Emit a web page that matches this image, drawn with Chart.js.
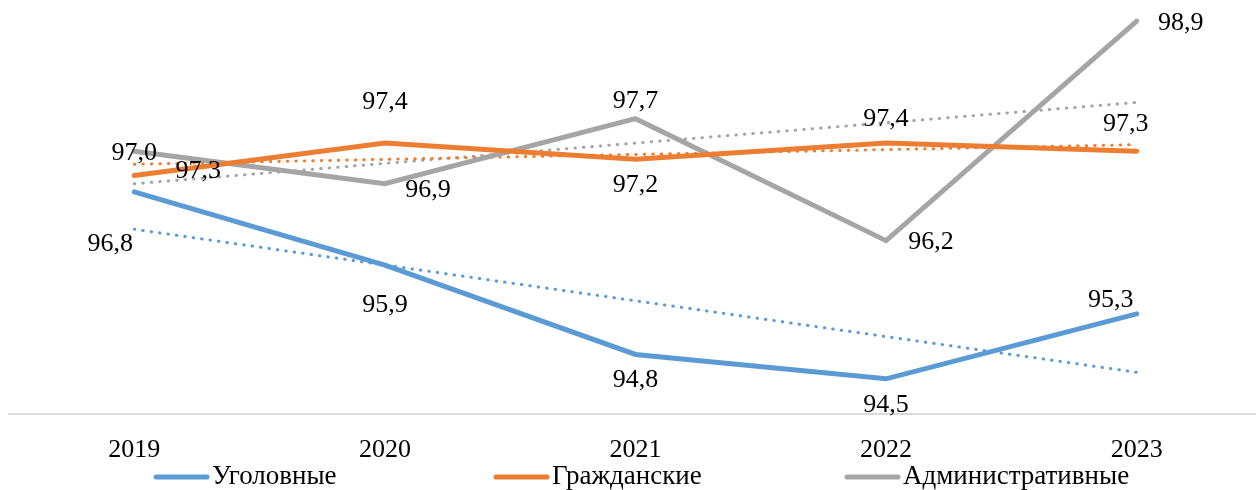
<!DOCTYPE html>
<html>
<head>
<meta charset="utf-8">
<script src="https://cdn.jsdelivr.net/npm/chart.js@4"></script>
<style>
  body { margin: 0; background: #fff; overflow: hidden; }
  #wrap { width: 1262px; height: 490px; }
</style>
</head>
<body>
<div id="wrap"><canvas id="chart"></canvas></div>
<script>
const years = ['2019', '2020', '2021', '2022', '2023'];
const criminal = [96.8, 95.9, 94.8, 94.5, 95.3];
const civil = [97.0, 97.4, 97.2, 97.4, 97.3];
const admin = [97.3, 96.9, 97.7, 96.2, 98.9];

// label offsets (px) from each point, per series
const labelShift = [
    [[-24, 52], [0, 40], [0, 26], [0, 26], [-26, -14]],
    [[0, -22], [0, -41], [0, 26], [0, -24], [-11, -27]],
    [[64, 20], [43, 6], [0, -18], [45, 2], [44, 2]]
];
const legendX = [154, 494, 845];

// linear trend, like the excel trendline
function trend(values) {
    const n = values.length;
    const mx = (n - 1) / 2;
    const my = values.reduce((a, b) => a + b, 0) / n;
    let num = 0, den = 0;
    values.forEach((v, i) => { num += (i - mx) * (v - my); den += (i - mx) * (i - mx); });
    const k = num / den;
    return values.map((v, i) => my + k * (i - mx));
}

const font = "'Liberation Serif', 'Times New Roman', serif";
const blue = '#5B9BD5', orange = '#ED7D31', gray = '#A5A5A5';

function mainLine(label, data, color) {
    return {
        label: label, data: data, borderColor: color, backgroundColor: color,
        borderWidth: 5, pointRadius: 0, tension: 0, borderCapStyle: 'round'
    };
}
function trendLine(data, color) {
    return {
        label: 'trend', data: trend(data), borderColor: color, backgroundColor: color,
        borderWidth: 3, borderDash: [0.5, 8], borderCapStyle: 'round', pointRadius: 0
    };
}

const valueLabels = {
    id: 'valueLabels',
    afterDatasetsDraw(chart) {
        const ctx = chart.ctx;
        ctx.save();
        ctx.font = '26px ' + font;
        ctx.fillStyle = '#000';
        ctx.textAlign = 'center';
        ctx.textBaseline = 'middle';
        for (let d = 0; d < 3; d++) {
            const meta = chart.getDatasetMeta(d);
            meta.data.forEach((pt, i) => {
                const txt = chart.data.datasets[d].data[i].toFixed(1).replace('.', ',');
                ctx.fillText(txt, pt.x + labelShift[d][i][0], pt.y + labelShift[d][i][1]);
            });
        }
        ctx.restore();
    }
};

const bottomLegend = {
    id: 'bottomLegend',
    afterDraw(chart) {
        const ctx = chart.ctx;
        const y = 477;
        ctx.save();
        ctx.font = '27px ' + font;
        ctx.textBaseline = 'middle';
        ctx.lineCap = 'round';
        for (let d = 0; d < 3; d++) {
            const ds = chart.data.datasets[d];
            const x = legendX[d];
            ctx.strokeStyle = ds.borderColor;
            ctx.lineWidth = 5;
            ctx.beginPath();
            ctx.moveTo(x + 2, y);
            ctx.lineTo(x + 53, y);
            ctx.stroke();
            ctx.fillStyle = '#000';
            ctx.fillText(ds.label, x + 58, y);
        }
        ctx.restore();
    }
};

const chart = new Chart(document.getElementById('chart'), {
    type: 'line',
    data: {
        labels: years,
        datasets: [
            mainLine('Уголовные', criminal, blue),
            mainLine('Гражданские', civil, orange),
            mainLine('Административные', admin, gray),
            trendLine(criminal, blue),
            trendLine(civil, orange),
            trendLine(admin, gray)
        ]
    },
    options: {
        responsive: true,
        maintainAspectRatio: false,
        animation: false,
        layout: { padding: { left: 9, top: 13, right: 0, bottom: 11 } },
        scales: {
            x: {
                offset: true,
                grid: { display: false },
                border: { color: '#d9d9d9', width: 2 },
                ticks: { color: '#000', font: { family: font, size: 26 }, padding: 13 }
            },
            y: { display: false, min: 94.07, max: 99 }
        },
        plugins: {
            legend: { display: false },
            tooltip: { enabled: false }
        }
    },
    plugins: [valueLabels, bottomLegend]
});
</script>
</body>
</html>
